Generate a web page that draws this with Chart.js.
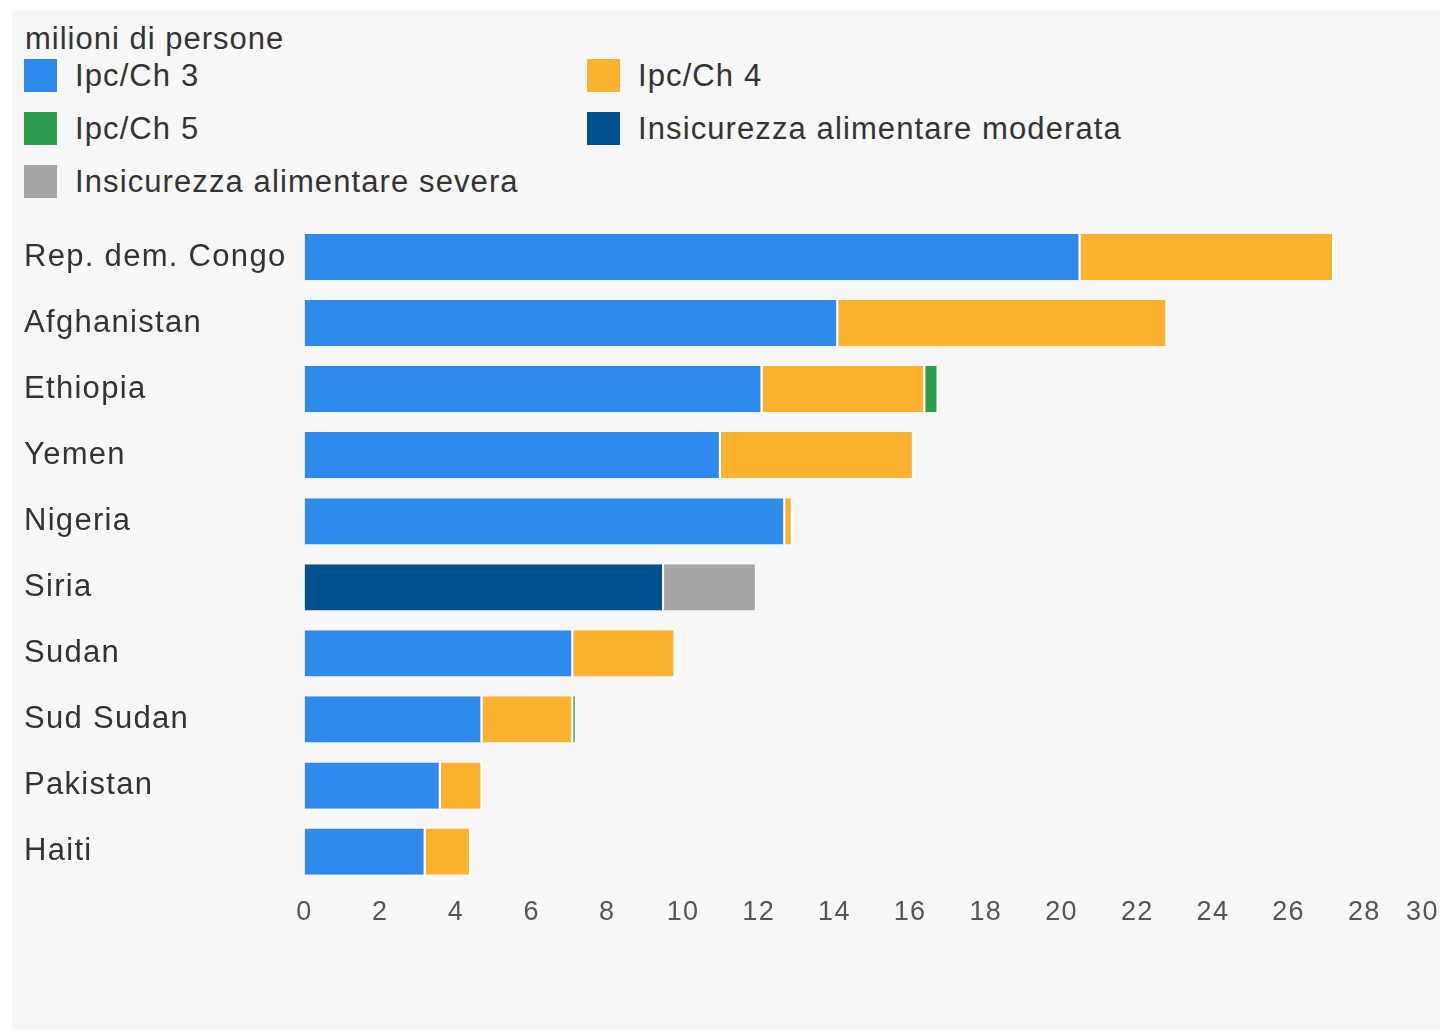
<!DOCTYPE html>
<html lang="it">
  <head>
    <meta charset="utf-8" />
    <title>Insicurezza alimentare</title>
    <style>
      * {
        margin: 0;
        padding: 0;
        font-family: "Liberation Sans", Arial, sans-serif;
      }
      body {
        width: 1440px;
        height: 1033px;
        overflow: hidden;
        background: #ffffff;
        position: relative;
      }
      .panel {
        position: absolute;
        left: 12px;
        top: 10px;
        width: 1428px;
        height: 1020px;
        background: #f7f7f7;
      }
      .legendTitle {
        position: absolute;
        left: 25px;
        top: 21px;
        font-size: 31px;
        letter-spacing: 1px;
        color: #333;
      }
      .legend {
        position: absolute;
        left: 24px;
        top: 56px;
        display: grid;
        grid-template-columns: 563px 563px;
        row-gap: 14px;
      }
      .legend div {
        display: flex;
        align-items: center;
        height: 39px;
        font-size: 31px;
        letter-spacing: 1.1px;
        color: #333;
      }
      .legend span {
        display: inline-block;
        width: 33px;
        height: 33px;
        margin-right: 18px;
      }
      .chartBox {
        position: absolute;
        left: 0;
        top: 0;
        width: 1440px;
        height: 1033px;
      }
    </style>
  </head>
  <body>
    <div class="panel"></div>
    <div class="legendTitle">milioni di persone</div>
    <div class="legend" id="legend"></div>
    <div class="chartBox">
      <canvas id="myChart"></canvas>
    </div>
    <script src="https://cdn.jsdelivr.net/npm/chart.js/dist/chart.umd.min.js"></script>
    <script>
      // data (milioni di persone)
      const countries = [
        "Rep. dem. Congo",
        "Afghanistan",
        "Ethiopia",
        "Yemen",
        "Nigeria",
        "Siria",
        "Sudan",
        "Sud Sudan",
        "Pakistan",
        "Haiti",
      ];
      const ipc3 = [20.5, 14.1, 12.1, 11.0, 12.7, null, 7.1, 4.7, 3.6, 3.2];
      const ipc4 = [6.7, 8.7, 4.3, 5.1, 0.2, null, 2.7, 2.4, 1.1, 1.2];
      const ipc5 = [null, null, 0.35, null, null, null, null, 0.08, null, null];
      const moderata = [null, null, null, null, null, 9.5, null, null, null, null];
      const severa = [null, null, null, null, null, 2.45, null, null, null, null];
      const xTicks = [0, 2, 4, 6, 8, 10, 12, 14, 16, 18, 20, 22, 24, 26, 28, 30];

      const series = [
        { label: "Ipc/Ch 3", data: ipc3, color: "#2f8aee" },
        { label: "Ipc/Ch 4", data: ipc4, color: "#fbb32f" },
        { label: "Ipc/Ch 5", data: ipc5, color: "#2e9e4f" },
        { label: "Insicurezza alimentare moderata", data: moderata, color: "#03508f" },
        { label: "Insicurezza alimentare severa", data: severa, color: "#a5a5a5" },
      ];

      // html legend, two columns
      const legendEl = document.getElementById("legend");
      series.forEach((s) => {
        const item = document.createElement("div");
        item.innerHTML = '<span style="background:' + s.color + '"></span>' + s.label;
        legendEl.appendChild(item);
      });

      // the source text is a bit wider than Liberation Sans
      const spacing = {
        id: "spacing",
        beforeUpdate(chart) {
          chart.ctx.letterSpacing = "1.3px";
        },
        beforeDraw(chart) {
          chart.ctx.letterSpacing = "1.3px";
        },
      };

      const data = {
        labels: countries,
        datasets: series.map((s) => ({
          label: s.label,
          data: s.data,
          backgroundColor: s.color,
          borderColor: "#ffffff",
          borderWidth: { right: 2 },
          borderSkipped: "start",
          barPercentage: 0.7,
          categoryPercentage: 1,
        })),
      };

      const config = {
        type: "bar",
        data,
        plugins: [spacing],
        options: {
          indexAxis: "y",
          responsive: true,
          maintainAspectRatio: false,
          animation: false,
          layout: {
            padding: { left: 24, top: 224, right: 0, bottom: 92 },
          },
          plugins: {
            legend: { display: false },
            tooltip: { enabled: false },
          },
          scales: {
            x: {
              stacked: true,
              min: 0,
              max: 30,
              afterBuildTicks(scale) {
                scale.ticks = xTicks.map((v) => ({ value: v }));
              },
              // bars run to the right edge, like the source
              afterFit(scale) {
                scale.paddingRight = 0;
              },
              grid: { display: false, drawTicks: false },
              border: { display: false },
              ticks: {
                color: "#555",
                padding: 12,
                maxRotation: 0,
                // last label sits inside the edge
                callback: (v) => (v === 30 ? "30    " : String(v)),
                font: { size: 27, family: "'Liberation Sans', Arial, sans-serif" },
              },
            },
            y: {
              stacked: true,
              grid: { display: false, drawTicks: false },
              border: { display: false },
              ticks: {
                crossAlign: "far",
                color: "#333",
                padding: 9,
                font: { size: 31, family: "'Liberation Sans', Arial, sans-serif" },
              },
            },
          },
        },
      };

      const myChart = new Chart(document.getElementById("myChart"), config);
    </script>
  </body>
</html>
